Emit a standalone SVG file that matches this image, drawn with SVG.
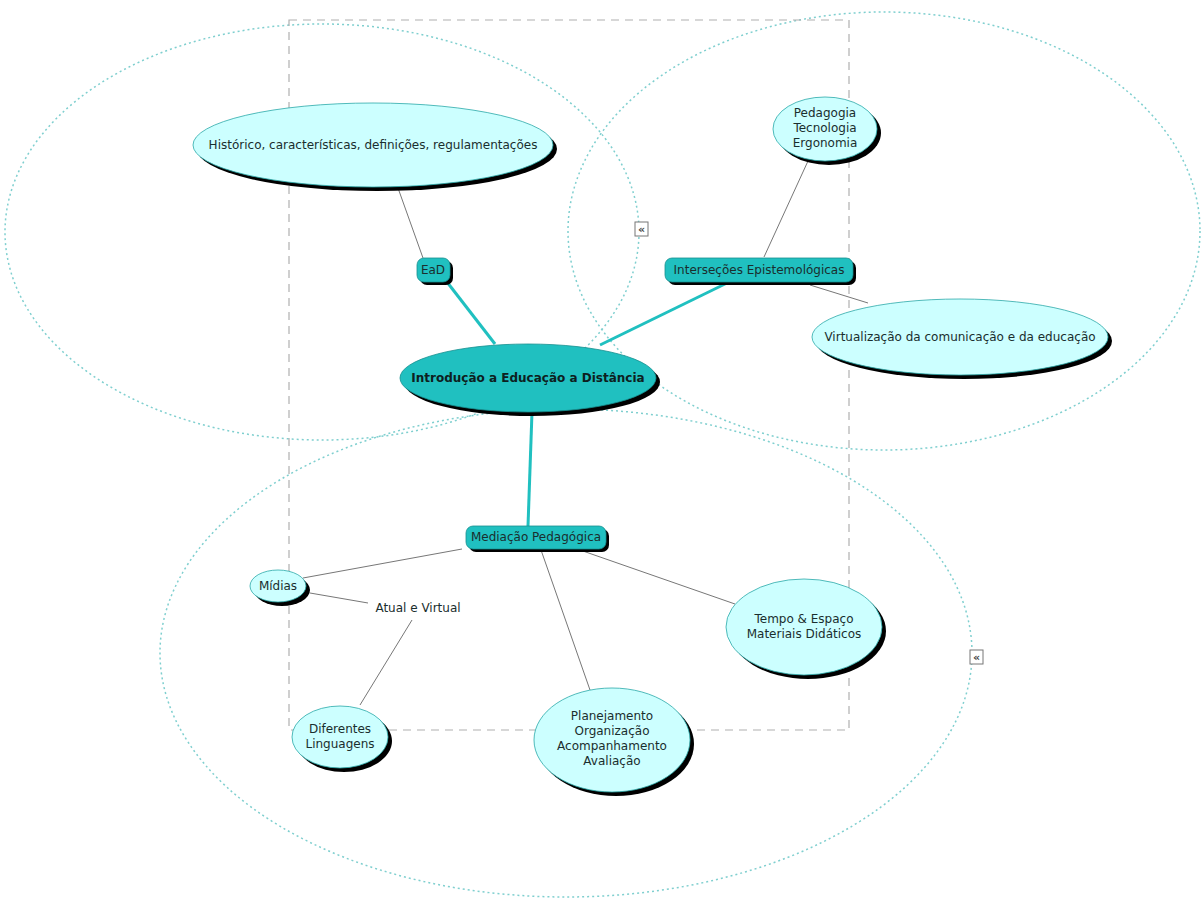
<svg xmlns="http://www.w3.org/2000/svg" width="1202" height="900" viewBox="0 0 1202 900">
<style>
.grp{fill:none;stroke:#7fcfcf;stroke-width:1.5;stroke-dasharray:2 3}
.box{fill:none;stroke:#b0b0b0;stroke-width:1.2;stroke-dasharray:8 6}
.sh{fill:#000}
.lt{fill:#ccffff;stroke:#2aa8a8;stroke-width:0.8}
.dk{fill:#20c0c0;stroke:#168f8f;stroke-width:0.8}
.t{font-family:"DejaVu Sans",Verdana,sans-serif;font-size:12px;fill:#1a2e2e;text-anchor:middle}
.tb{font-family:"DejaVu Sans",Verdana,sans-serif;font-size:12px;font-weight:bold;fill:#0d2020;text-anchor:middle}
.thin{stroke:#777;stroke-width:1;fill:none}
.thick{stroke:#20c0c0;stroke-width:3;fill:none}
.ic{fill:#fff;stroke:#777;stroke-width:1}
.it{font-family:"DejaVu Sans",sans-serif;font-size:11px;font-weight:bold;fill:#444;text-anchor:middle}
</style>
<rect width="1202" height="900" fill="#fff"/>
<g id="groups">
<ellipse class="grp" cx="322" cy="232" rx="317" ry="208"/>
<ellipse class="grp" cx="884" cy="231" rx="316" ry="219"/>
<ellipse class="grp" cx="566" cy="653" rx="406" ry="244"/>
<rect class="box" x="289" y="20" width="560" height="710"/>
</g>
<g id="connectors">
<line class="thin" x1="398" y1="188" x2="423" y2="258"/>
<line class="thick" x1="447" y1="282" x2="495" y2="344"/>
<line class="thick" x1="727" y1="283" x2="600" y2="345"/>
<line class="thin" x1="764" y1="257" x2="808" y2="161"/>
<line class="thin" x1="810" y1="285" x2="868" y2="303"/>
<line class="thick" x1="532" y1="412" x2="528" y2="526"/>
<line class="thin" x1="462" y1="549" x2="303" y2="578"/>
<line class="thin" x1="310" y1="593" x2="368" y2="603"/>
<line class="thin" x1="412" y1="620" x2="360" y2="705"/>
<line class="thin" x1="541" y1="550" x2="590" y2="690"/>
<line class="thin" x1="580" y1="550" x2="735" y2="604"/>
</g>
<g id="n-historico">
<ellipse class="sh" cx="377" cy="149" rx="180" ry="42"/>
<ellipse class="lt" cx="373" cy="145" rx="180" ry="42"/>
<text class="t" x="373" y="149">Histórico, características, definições, regulamentações</text>
</g>
<g id="n-ead">
<rect class="sh" x="420" y="261" width="33" height="24" rx="7"/>
<rect class="dk" x="417" y="258" width="33" height="24" rx="7"/>
<text class="t" x="433" y="274">EaD</text>
</g>
<g id="n-intro">
<ellipse class="sh" cx="532" cy="382" rx="128" ry="34"/>
<ellipse class="dk" cx="528" cy="378" rx="128" ry="34"/>
<text class="tb" x="528" y="382">Introdução a Educação a Distância</text>
</g>
<g id="n-intersecoes">
<rect class="sh" x="668" y="261" width="188" height="24" rx="7"/>
<rect class="dk" x="665" y="258" width="188" height="24" rx="7"/>
<text class="t" x="759" y="274">Interseções Epistemológicas</text>
</g>
<g id="n-pedagogia">
<ellipse class="sh" cx="829" cy="133" rx="52" ry="32"/>
<ellipse class="lt" cx="825" cy="129" rx="52" ry="32"/>
<text class="t" x="825" y="117">Pedagogia</text>
<text class="t" x="825" y="132">Tecnologia</text>
<text class="t" x="825" y="147">Ergonomia</text>
</g>
<g id="n-virtualizacao">
<ellipse class="sh" cx="964" cy="341" rx="148" ry="38"/>
<ellipse class="lt" cx="960" cy="337" rx="148" ry="38"/>
<text class="t" x="960" y="341">Virtualização da comunicação e da educação</text>
</g>
<g id="n-mediacao">
<rect class="sh" x="469" y="529" width="140" height="23" rx="7"/>
<rect class="dk" x="466" y="526" width="140" height="23" rx="7"/>
<text class="t" x="536" y="541">Mediação Pedagógica</text>
</g>
<g id="n-midias">
<ellipse class="sh" cx="282" cy="590" rx="28" ry="16"/>
<ellipse class="lt" cx="278" cy="586" rx="28" ry="16"/>
<text class="t" x="278" y="590">Mídias</text>
</g>
<g id="n-atual">
<text class="t" x="418" y="612">Atual e Virtual</text>
</g>
<g id="n-diferentes">
<ellipse class="sh" cx="344" cy="741" rx="48" ry="31"/>
<ellipse class="lt" cx="340" cy="737" rx="48" ry="31"/>
<text class="t" x="340" y="733">Diferentes</text>
<text class="t" x="340" y="748">Linguagens</text>
</g>
<g id="n-planejamento">
<ellipse class="sh" cx="616" cy="744" rx="78" ry="52"/>
<ellipse class="lt" cx="612" cy="740" rx="78" ry="52"/>
<text class="t" x="612" y="720">Planejamento</text>
<text class="t" x="612" y="735">Organização</text>
<text class="t" x="612" y="750">Acompanhamento</text>
<text class="t" x="612" y="765">Avaliação</text>
</g>
<g id="n-tempo">
<ellipse class="sh" cx="808" cy="631" rx="78" ry="48"/>
<ellipse class="lt" cx="804" cy="627" rx="78" ry="48"/>
<text class="t" x="804" y="623">Tempo &amp; Espaço</text>
<text class="t" x="804" y="638">Materiais Didáticos</text>
</g>
<g id="icons">
<rect class="ic" x="635" y="222" width="13" height="14"/>
<text class="it" x="641.5" y="233">«</text>
<rect class="ic" x="970" y="650" width="13" height="14"/>
<text class="it" x="976.5" y="661">«</text>
</g>
</svg>
